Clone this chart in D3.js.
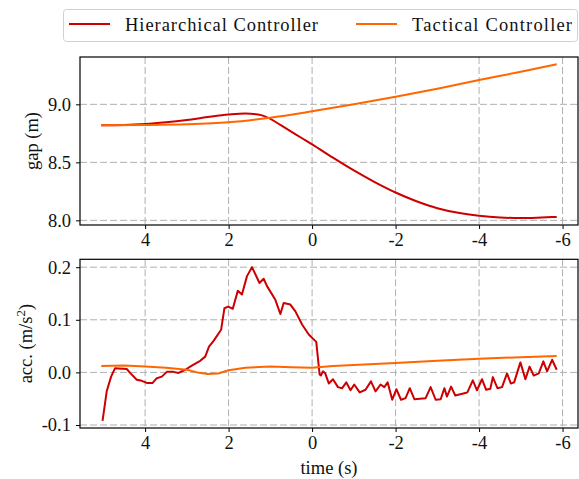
<!DOCTYPE html>
<html lang="en">
<head>
<meta charset="UTF-8">
<title>Gap and acceleration</title>
<script src="https://d3js.org/d3.v7.min.js"></script>
<style>
  body { margin: 0; background: #fff; }
  svg text { font-family: "Liberation Serif", "DejaVu Serif", serif; fill: #111; }
</style>
</head>
<body>
<div id="chart"></div>
<script>
// series names / colours
const seriesNames = ["Hierarchical Controller", "Tactical Controller"];
const seriesColors = ["#cc0000", "#ff6600"];

// gap (m) vs time (s)
const gapHierT = [5.05, 4.5, 4, 3.5, 3, 2.5, 2, 1.6, 1.2, 1.0, 0.75, 0.5, 0.25, 0, -0.5, -1, -1.5, -2, -2.5, -3, -3.5, -4, -4.5, -5, -5.5, -5.86];
const gapHierV = [8.82, 8.822, 8.83, 8.845, 8.865, 8.89, 8.912, 8.922, 8.905, 8.875, 8.82, 8.765, 8.71, 8.655, 8.54, 8.43, 8.33, 8.24, 8.165, 8.105, 8.065, 8.04, 8.025, 8.02, 8.025, 8.03];
const gapTactT = [5.05, 4, 3, 2, 1, 0, -1, -2, -3, -4, -5, -5.86];
const gapTactV = [8.82, 8.822, 8.828, 8.845, 8.885, 8.94, 9.0, 9.066, 9.135, 9.21, 9.28, 9.345];

// acceleration (m/s^2) vs time (s)
const accHierT = [5.02, 4.92, 4.815, 4.72, 4.44, 4.36, 4.2, 4.08, 3.96, 3.82, 3.72, 3.6, 3.48, 3.32, 3.2, 3.04, 2.88, 2.68, 2.56, 2.47, 2.36, 2.18, 2.1, 2.01, 1.9, 1.78, 1.68, 1.56, 1.44, 1.26, 1.16, 1.08, 0.88, 0.76, 0.68, 0.52, 0.4, 0.24, 0.08, -0.1, -0.18, -0.21, -0.26, -0.31, -0.4, -0.5, -0.62, -0.72, -0.82, -0.92, -1.01, -1.14, -1.28, -1.41, -1.52, -1.64, -1.73, -1.81, -1.92, -2.02, -2.13, -2.24, -2.34, -2.45, -2.72, -2.84, -2.96, -3.08, -3.17, -3.23, -3.33, -3.43, -3.67, -3.72, -3.85, -3.95, -4.07, -4.17, -4.27, -4.33, -4.44, -4.55, -4.67, -4.76, -4.84, -4.99, -5.11, -5.21, -5.31, -5.43, -5.54, -5.63, -5.75, -5.86];
const accHierV = [-0.092, -0.036, -0.008, 0.008, 0.0065, -0.001, -0.014, -0.016, -0.02, -0.02, -0.011, -0.008, 0.001, 0.001, -0.001, 0.005, 0.013, 0.022, 0.03, 0.049, 0.06, 0.081, 0.122, 0.125, 0.121, 0.155, 0.148, 0.183, 0.2, 0.17, 0.178, 0.164, 0.138, 0.111, 0.132, 0.129, 0.116, 0.091, 0.072, 0.058, -0.004, -0.006, 0.002, -0.001, -0.021, -0.013, -0.028, -0.03, -0.019, -0.034, -0.023, -0.038, -0.033, -0.017, -0.036, -0.023, -0.028, -0.019, -0.052, -0.032, -0.052, -0.049, -0.03, -0.051, -0.049, -0.028, -0.052, -0.051, -0.03, -0.046, -0.027, -0.044, -0.039, -0.038, -0.015, -0.034, -0.013, -0.033, -0.031, -0.009, -0.03, -0.028, -0.002, -0.021, -0.019, 0.019, -0.013, 0.011, -0.006, -0.002, 0.021, 0.002, 0.024, 0.005];
const accTactT = [5.05, 4.5, 4, 3.5, 3, 2.75, 2.5, 2.25, 2.0, 1.6, 1.0, 0.5, 0, -0.5, -1, -2, -3, -4, -5, -5.86];
const accTactV = [0.012, 0.013, 0.011, 0.009, 0.005, 0.0, -0.003, -0.002, 0.004, 0.009, 0.011, 0.010, 0.009, 0.012, 0.014, 0.018, 0.022, 0.026, 0.029, 0.031];

// ticks
const xTicks = [4, 2, 0, -2, -4, -6];
const gapTicks = [8.0, 8.5, 9.0];
const accTicks = [-0.1, 0.0, 0.1, 0.2];

const W = 579, H = 479;
const left = 80, right = 578;
const topPanel = { y0: 57, y1: 225 };
const botPanel = { y0: 259.3, y1: 428 };

const svg = d3.select("#chart").append("svg")
  .attr("width", W).attr("height", H);

const x = d3.scaleLinear().domain([5.56, -6.37]).range([left, right]);
const yGap = d3.scaleLinear().domain([7.96, 9.408]).range([topPanel.y1, topPanel.y0]);
const yAcc = d3.scaleLinear().domain([-0.1057, 0.215]).range([botPanel.y1, botPanel.y0]);

const fs = 18.5;

function panel(p, y, yTicks, yFmt, series, curve, ylabel) {
  const g = svg.append("g");
  // grid
  g.append("g").selectAll("line").data(xTicks).join("line")
    .attr("x1", d => x(d)).attr("x2", d => x(d))
    .attr("y1", p.y0).attr("y2", p.y1)
    .attr("stroke", "#b0b0b0").attr("stroke-width", 1).attr("stroke-dasharray", "7,3");
  g.append("g").selectAll("line").data(yTicks).join("line")
    .attr("x1", left).attr("x2", right)
    .attr("y1", d => y(d)).attr("y2", d => y(d))
    .attr("stroke", "#b0b0b0").attr("stroke-width", 1).attr("stroke-dasharray", "7,3");

  // lines
  const line = d3.line().x(d => x(d[0])).y(d => y(d[1])).curve(curve);
  series.forEach((s, i) => {
    g.append("path")
      .datum(d3.zip(s[0], s[1]))
      .attr("fill", "none")
      .attr("stroke", seriesColors[i])
      .attr("stroke-width", 2)
      .attr("stroke-linejoin", "round")
      .attr("d", line);
  });

  // axes
  const ax = g.append("g").attr("transform", `translate(0,${p.y1})`)
    .call(d3.axisBottom(x).tickValues(xTicks).tickFormat(d => String(d)).tickSizeOuter(0).tickSize(4).tickPadding(4));
  const ay = g.append("g").attr("transform", `translate(${left},0)`)
    .call(d3.axisLeft(y).tickValues(yTicks).tickFormat(yFmt).tickSizeOuter(0).tickSize(4).tickPadding(5));
  [ax, ay].forEach(a => {
    a.select(".domain").remove();
    a.selectAll("line").attr("stroke", "#000");
    a.selectAll("text").attr("font-size", fs).attr("font-family", "Liberation Serif, serif").attr("fill", "#111");
  });

  // frame
  g.append("rect").attr("x", left).attr("y", p.y0)
    .attr("width", right - left).attr("height", p.y1 - p.y0)
    .attr("fill", "none").attr("stroke", "#000").attr("stroke-width", 1.2);

  // y label
  const lab = g.append("text")
    .attr("transform", `translate(${ylabel.x},${(p.y0 + p.y1) / 2}) rotate(-90)`)
    .attr("text-anchor", "middle").attr("font-size", fs);
  ylabel.build(lab);
}

panel(topPanel, yGap, gapTicks, d3.format(".1f"),
  [[gapHierT, gapHierV], [gapTactT, gapTactV]], d3.curveMonotoneX,
  { x: 38, build: t => t.text("gap (m)") });

panel(botPanel, yAcc, accTicks, d => d3.format(".1f")(d).replace("−", "-"),
  [[accHierT, accHierV], [accTactT, accTactV]], d3.curveLinear,
  { x: 32, build: t => {
      t.append("tspan").text("acc. (m/s");
      t.append("tspan").attr("font-size", 13).attr("dy", -7).text("2");
      t.append("tspan").attr("dy", 7).text(")");
  } });

// x label
svg.append("text").attr("x", (left + right) / 2).attr("y", 474)
  .attr("text-anchor", "middle").attr("font-size", fs).text("time (s)");

// legend
const lg = svg.append("g");
lg.append("rect").attr("x", 63.5).attr("y", 9.5).attr("width", 514).attr("height", 32)
  .attr("rx", 3).attr("fill", "#fff").attr("stroke", "#d0d0d0").attr("stroke-width", 1);
const legendX = [[69, 125, 193], [356, 412, 160]];
seriesNames.forEach((name, i) => {
  lg.append("line").attr("x1", legendX[i][0]).attr("x2", legendX[i][0] + 41)
    .attr("y1", 24).attr("y2", 24)
    .attr("stroke", seriesColors[i]).attr("stroke-width", 2);
  lg.append("text").attr("x", legendX[i][1]).attr("y", 30.5)
    .attr("font-size", fs).attr("textLength", legendX[i][2])
    .attr("lengthAdjust", "spacing").text(name);
});
</script>
</body>
</html>
